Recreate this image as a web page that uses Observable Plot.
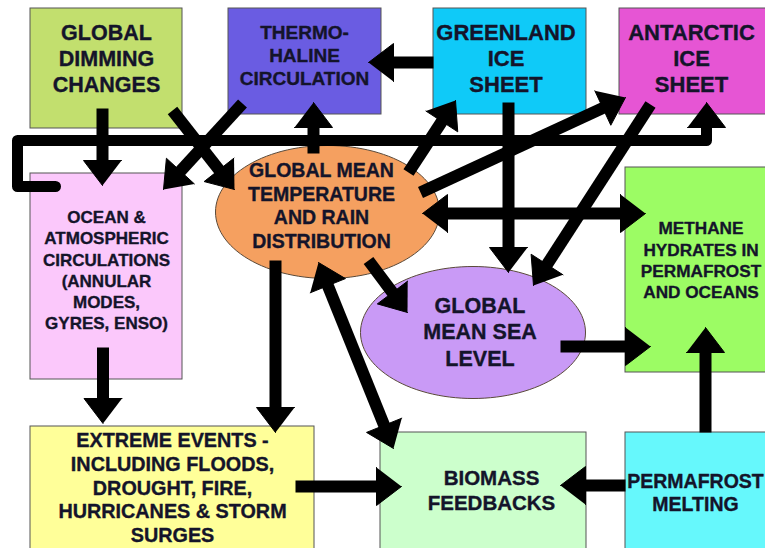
<!DOCTYPE html>
<html><head><meta charset="utf-8">
<script src="https://cdn.jsdelivr.net/npm/d3@7"></script>
<script src="https://cdn.jsdelivr.net/npm/@observablehq/plot@0.6"></script>
<style>html,body{margin:0;padding:0;background:#fff;overflow:hidden}</style>
</head><body><div id="chart"></div>
<script>
const W = 765, H = 548;

// ---- nodes (category names and their labels) ----
const nodeIds = ["dimming","thermo","greenland","antarctic","ocean","gmt","sea","methane","extreme","biomass","permafrost"];
const nodeLabels = [
  "GLOBAL\nDIMMING\nCHANGES",
  "THERMO-\nHALINE\nCIRCULATION",
  "GREENLAND\nICE\nSHEET",
  "ANTARCTIC\nICE\nSHEET",
  "OCEAN &\nATMOSPHERIC\nCIRCULATIONS\n(ANNULAR\nMODES,\nGYRES, ENSO)",
  "GLOBAL MEAN\nTEMPERATURE\nAND RAIN\nDISTRIBUTION",
  "GLOBAL\nMEAN SEA\nLEVEL",
  "METHANE\nHYDRATES IN\nPERMAFROST\nAND OCEANS",
  "EXTREME EVENTS -\nINCLUDING FLOODS,\nDROUGHT, FIRE,\nHURRICANES & STORM\nSURGES",
  "BIOMASS\nFEEDBACKS",
  "PERMAFROST\nMELTING"
];

// ---- diagram layout (diagram units = pixels of the 765x548 picture) ----
const boxNodes = [ // id, x1, y1, x2, y2
  ["dimming", 30, 8, 182, 128],
  ["thermo", 228, 8, 381, 114],
  ["greenland", 433, 8, 586, 114],
  ["antarctic", 619, 8, 790, 114],
  ["ocean", 30, 173, 182, 379],
  ["methane", 625, 167, 790, 372],
  ["extreme", 30, 426, 314, 570],
  ["biomass", 380, 432, 586, 570],
  ["permafrost", 625, 432, 790, 570]
];
const ellipseNodes = [ // id, cx, cy, rx, ry
  ["gmt", 327, 211.5, 112, 66.5],
  ["sea", 472.5, 332, 112.5, 66]
];
const labelAnchors = [ // id, x, y, fontSize, lineHeight
  ["dimming", 106, 57.5, 21.5, 1.21],
  ["thermo", 304, 54, 19, 1.21],
  ["greenland", 505.5, 57.5, 22, 1.18],
  ["antarctic", 691, 57.5, 22, 1.18],
  ["ocean", 106, 269, 17, 1.25],
  ["gmt", 321, 204.5, 19.5, 1.21],
  ["sea", 479.5, 330.5, 21.5, 1.23],
  ["methane", 700.5, 259, 17.2, 1.24],
  ["extreme", 172, 486.5, 19.8, 1.2],
  ["biomass", 491, 488.5, 20.5, 1.22],
  ["permafrost", 695, 492, 19.5, 1.18]
];
const nodeColors = {
  dimming: "#c2df6e", thermo: "#6a5ce2", greenland: "#0fcaf8", antarctic: "#e655d4",
  ocean: "#fbc8fb", gmt: "#f5a060", sea: "#c99af6", methane: "#9cfc64",
  extreme: "#ffff99", biomass: "#ccffcc", permafrost: "#66f8fc"
};

// ---- arrows: tail x, tail y, tip x, tip y, double-headed ----
const arrows = [
  [102, 108, 102, 185, false],  // dimming -> ocean
  [172, 110, 234, 189, false],  // dimming -> gmt
  [242, 103, 163, 189, false],  // thermohaline -> ocean
  [313, 153, 313, 102, false],  // gmt -> thermohaline
  [433, 62, 368, 62, false],    // greenland -> thermohaline
  [408, 172, 455, 100, false],  // gmt -> greenland
  [420, 192, 625, 97, false],   // gmt -> antarctic
  [508, 102, 508, 272, false],  // greenland -> sea level
  [650, 104, 533, 285, false],  // antarctic -> sea level
  [422, 213, 645, 213, true],   // gmt <-> methane
  [368, 260, 407, 312, false],  // gmt -> sea level
  [560, 346, 650, 346, false],  // sea level -> methane
  [705, 432, 705, 327, false],  // permafrost -> methane
  [102.5, 347, 102.5, 423, false], // ocean -> extreme
  [275, 260, 275, 432, false],  // gmt -> extreme
  [318, 262, 393, 448, true],   // gmt <-> biomass
  [295, 486, 401, 486, false],  // extreme -> biomass
  [625, 485, 560, 485, false]   // permafrost -> biomass
];
// feedback loop from ocean/atmosphere to antarctic ice sheet
const loopPath = [[55, 186], [17, 186], [17, 140], [706, 140], [706, 102]];

const HL = 25, HW = 38, SW = 12;

// ---- build geometry from the arrays ----
function headTri(tx, ty, fx, fy, id) {
  const dx = tx - fx, dy = ty - fy, d = Math.hypot(dx, dy);
  const ux = dx / d, uy = dy / d, nx = -uy, ny = ux;
  const bx = tx - ux * HL, by = ty - uy * HL;
  return {
    tri: [
      {id, x: tx, y: ty},
      {id, x: bx + nx * HW / 2, y: by + ny * HW / 2},
      {id, x: bx - nx * HW / 2, y: by - ny * HW / 2}
    ],
    base: [bx + ux * 1, by + uy * 1]
  };
}
const heads = [], shafts = [];
arrows.forEach(([x1, y1, x2, y2, both], i) => {
  const h2 = headTri(x2, y2, x1, y1, "a" + i);
  heads.push(...h2.tri);
  let start = [x1, y1];
  if (both) {
    const h1 = headTri(x1, y1, x2, y2, "b" + i);
    heads.push(...h1.tri);
    start = h1.base;
  }
  shafts.push({x1: start[0], y1: start[1], x2: h2.base[0], y2: h2.base[1]});
});
// loop: last segment ends in a head
const lp = loopPath.map(p => p.slice());
const last = lp[lp.length - 1], prev = lp[lp.length - 2];
const lh = headTri(last[0], last[1], prev[0], prev[1], "loop");
heads.push(...lh.tri);
lp[lp.length - 1] = lh.base;
const loopPts = lp.map(([x, y]) => ({x, y}));

const rects = boxNodes.map(([id, x1, y1, x2, y2]) => ({id, x1, y1, x2, y2}));
const ellipseMarks = ellipseNodes.map(([id, cx, cy, rx, ry]) => {
  const pts = d3.range(0, 121).map(k => {
    const t = (k / 120) * 2 * Math.PI;
    return {x: cx + rx * Math.cos(t), y: cy + ry * Math.sin(t)};
  });
  return Plot.line(pts, {x: "x", y: "y", fill: nodeColors[id], stroke: "#5a4a3a", strokeWidth: 1, curve: "linear"});
});
const textMarks = labelAnchors.map(([id, x, y, fs, lh]) =>
  Plot.text([{x, y, label: nodeLabels[nodeIds.indexOf(id)]}], {
    x: "x", y: "y", text: "label", fontSize: fs, lineHeight: lh,
    fontWeight: "bold", fontFamily: "'Liberation Sans', Arial, Helvetica, sans-serif",
    fill: "#14142a", stroke: "#14142a", strokeWidth: 0.35,
    textAnchor: "middle", lineAnchor: "middle"
  })
);

const chart = Plot.plot({
  width: W, height: H,
  margin: 0,
  x: {domain: [0, W], range: [0, W], axis: null},
  y: {domain: [0, H], range: [0, H], axis: null},
  style: {background: "#fff", overflow: "hidden"},
  marks: [
    Plot.rect(rects, {x1: "x1", y1: "y1", x2: "x2", y2: "y2", fill: d => nodeColors[d.id], stroke: "#555", strokeWidth: 1, clip: true}),
    ...ellipseMarks,
    Plot.link(shafts, {x1: "x1", y1: "y1", x2: "x2", y2: "y2", stroke: "#000", strokeWidth: SW, strokeLinecap: "butt"}),
    Plot.line(loopPts, {x: "x", y: "y", stroke: "#000", strokeWidth: 11, strokeLinejoin: "round", curve: "linear"}),
    Plot.line(heads, {x: "x", y: "y", z: "id", fill: "#000", stroke: "#000", strokeWidth: 1, curve: "linear"}),
    ...textMarks
  ]
});
document.getElementById("chart").appendChild(chart);
</script>
</body></html>
